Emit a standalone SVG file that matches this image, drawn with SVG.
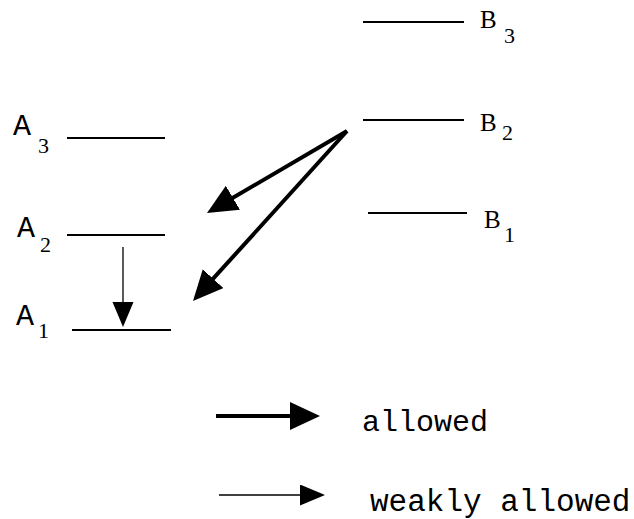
<svg xmlns="http://www.w3.org/2000/svg" width="634" height="519" viewBox="0 0 634 519">
  <style>
    .level { stroke: #000; stroke-width: 2; fill: none; }
    .strong { stroke: #000; stroke-width: 4; fill: none; marker-end: url(#headBig); }
    .weak { stroke: #000; stroke-width: 1.3; fill: none; marker-end: url(#headSmall); }
    text { fill: #000; }
    .mono { font-family: "Liberation Mono", "Courier New", monospace; font-size: 30px; }
    .serif { font-family: "Liberation Serif", "Times New Roman", serif; font-size: 25px; }
    .sub { font-family: "Liberation Serif", "Times New Roman", serif; font-size: 22px; }
    .legend { font-family: "Liberation Mono", "Courier New", monospace; font-size: 30px; }
    .legend.wide { font-size: 31px; }
  </style>
  <defs>
    <marker id="headBig" markerUnits="userSpaceOnUse" markerWidth="32" markerHeight="30" refX="2" refY="14" orient="auto">
      <path d="M0,0 L30,14 L0,28 z" fill="#000"/>
    </marker>
    <marker id="headSmall" markerUnits="userSpaceOnUse" markerWidth="27" markerHeight="23" refX="2" refY="10.5" orient="auto">
      <path d="M0,0 L25,10.5 L0,21 z" fill="#000"/>
    </marker>
  </defs>
  <rect width="634" height="519" fill="#fff"/>

  <!-- levels of system A -->
  <g id="A3">
    <line class="level" x1="67" y1="138" x2="165" y2="138"/>
    <text class="mono" x="13" y="135">A</text>
    <text class="sub" x="38" y="153">3</text>
  </g>
  <g id="A2">
    <line class="level" x1="67" y1="235" x2="165" y2="235"/>
    <text class="mono" x="17" y="237">A</text>
    <text class="sub" x="40" y="252">2</text>
  </g>
  <g id="A1">
    <line class="level" x1="72" y1="330" x2="171" y2="330"/>
    <text class="mono" x="16" y="325">A</text>
    <text class="sub" x="38" y="338">1</text>
  </g>

  <!-- levels of system B -->
  <g id="B3">
    <line class="level" x1="363" y1="22" x2="464" y2="22"/>
    <text class="serif" x="480" y="28">B</text>
    <text class="sub" x="504" y="43">3</text>
  </g>
  <g id="B2">
    <line class="level" x1="363" y1="120" x2="464" y2="120"/>
    <text class="serif" x="480" y="131">B</text>
    <text class="sub" x="502" y="140">2</text>
  </g>
  <g id="B1">
    <line class="level" x1="368" y1="213" x2="467" y2="213"/>
    <text class="serif" x="484" y="228">B</text>
    <text class="sub" x="504" y="242">1</text>
  </g>

  <!-- transitions -->
  <g id="connectors">
    <line class="strong" x1="347" y1="131" x2="231.2" y2="198.8"/>
    <line class="strong" x1="347" y1="131" x2="211.8" y2="280.2"/>
    <line class="weak" x1="123" y1="247" x2="123" y2="304"/>
  </g>

  <!-- legend -->
  <g id="legend-allowed">
    <line class="strong" x1="216" y1="416" x2="292" y2="416"/>
    <text class="legend" x="362" y="431">allowed</text>
  </g>
  <g id="legend-weak">
    <line class="weak" x1="219" y1="495" x2="302" y2="495"/>
    <text class="legend wide" x="370" y="511">weakly allowed</text>
  </g>
</svg>
